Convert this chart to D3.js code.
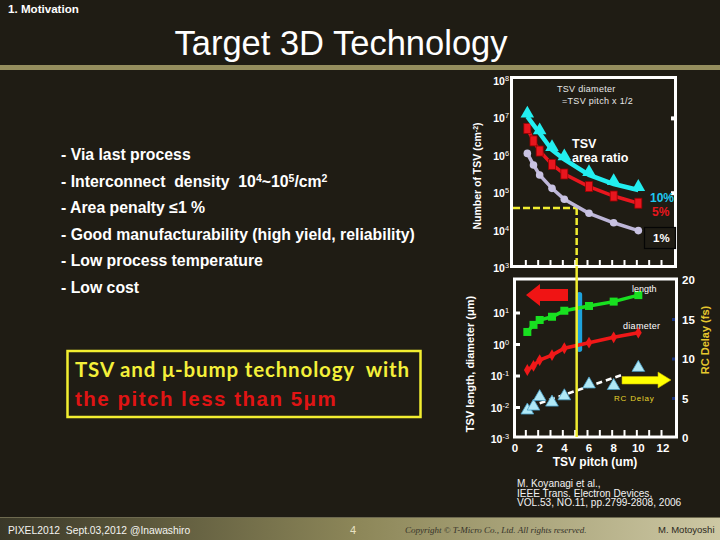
<!DOCTYPE html>
<html><head><meta charset="utf-8">
<script src="https://cdn.jsdelivr.net/npm/d3@7"></script>
<style>
html,body{margin:0;padding:0;background:#1f1c14;}
svg{display:block;}
text{font-family:"Liberation Sans",Arial,sans-serif;}
</style></head>
<body>
<script>
// ---------- data ----------
const pitch = [1, 1.5, 2, 3, 4, 6, 8, 10];           // TSV pitch (um)
const pitch10 = [1, 2, 3, 4, 6, 8, 10];
const tsv10 = [1.12e7, 4.0e6, 1.43e6, 8.05e5, 3.07e5, 1.76e5, 1.22e5]; // 10% area ratio
const tsv5  = [5.4e6, 2.5e6, 1.34e6, 5.9e5, 3.26e5, 1.5e5, 8.4e4, 5.4e4]; // 5%
const tsv1  = [1.16e6, 5.7e5, 3.07e5, 1.35e5, 6.9e4, 2.9e4, 1.62e4, 1.0e4]; // 1%
const tsvLength   = [2.5, 4.2, 6.0, 7.6, 11.8, 16.7, 23, 37];     // um
const tsvDiameter = [0.155, 0.21, 0.32, 0.46, 0.76, 1.14, 1.69, 2.37]; // um
const rcDelay     = [3.5, 4.0, 5.2, 4.5, 5.3, 6.8, 6.6, 8.9];      // fs
const rcFitPitch = [2, 4.7, 8.7];
const rcFit      = [4.4, 5.85, 8.0];
const targetPitch = 5, targetDensity = 4e4;
const xTicks = [0, 2, 4, 6, 8, 10, 12];
const topExp = [8, 7, 6, 5, 4, 3];
const botExp = [1, 0, -1, -2, -3];
const rightTicks = [20, 15, 10, 5, 0];
const bullets = [
  ["- Via last process"],
  ["- Interconnect  density  10", ["4"], "~10", ["5"], "/cm", ["2"]],
  ["- Area penalty ≤1 %"],
  ["- Good manufacturability (high yield, reliability)"],
  ["- Low process temperature"],
  ["- Low cost"]
];

const W = 720, H = 540;
const svg = d3.select("body").append("svg").attr("width", W).attr("height", H);
const defs = svg.append("defs");
const g1 = defs.append("linearGradient").attr("id","foot").attr("x1","0").attr("x2","1");
g1.append("stop").attr("offset","0").attr("stop-color","#3a3828");
g1.append("stop").attr("offset","0.5").attr("stop-color","#8d8759");
g1.append("stop").attr("offset","1").attr("stop-color","#cdc8a4");

svg.append("rect").attr("width",W).attr("height",H).attr("fill","#1f1c14");
// header
svg.append("rect").attr("x",0).attr("y",65).attr("width",W).attr("height",5).attr("fill","#958e5e");
svg.append("text").attr("x",8).attr("y",13).attr("fill","#fff").attr("font-size",11.6).attr("font-weight","bold").text("1. Motivation");
svg.append("text").attr("x",341).attr("y",55).attr("fill","#fff").attr("font-size",34.5).attr("text-anchor","middle").text("Target 3D Technology");
// footer
svg.append("rect").attr("x",0).attr("y",517).attr("width",W).attr("height",23).attr("fill","url(#foot)");
svg.append("rect").attr("x",0).attr("y",517).attr("width",W).attr("height",1).attr("fill","#6e6a50");
svg.append("text").attr("x",8).attr("y",534).attr("fill","#f4f4f0").attr("font-size",10.3).attr("xml:space","preserve").text("PIXEL2012  Sept.03,2012 @Inawashiro");
svg.append("text").attr("x",350).attr("y",534).attr("fill","#e8e2c4").attr("font-size",11).text("4");
svg.append("text").attr("x",405).attr("y",533).attr("fill","#36332a").attr("font-size",9).attr("font-style","italic").style("font-family","'Liberation Serif',serif").text("Copyright © T-Micro Co., Ltd. All rights reserved.");
svg.append("text").attr("x",658).attr("y",533).attr("fill","#2a2820").attr("font-size",9.5).text("M. Motoyoshi");

// bullets
bullets.forEach((parts, i) => {
  const t = svg.append("text").attr("x",61).attr("y",160 + i*26.6).attr("fill","#fff").attr("font-size",15.8).attr("font-weight","bold").attr("xml:space","preserve");
  let up = false;
  parts.forEach(p => {
    if (Array.isArray(p)) { t.append("tspan").attr("dy", -5).attr("font-size",10.5).text(p[0]); up = true; }
    else { const s = t.append("tspan").text(p); if (up) { s.attr("dy",5); up=false; } }
  });
});
// yellow box
svg.append("rect").attr("x",67.5).attr("y",351).attr("width",353).attr("height",66).attr("fill","none").attr("stroke","#f2ee30").attr("stroke-width",2.5);
svg.append("text").attr("x",75).attr("y",377).attr("fill","#f4f03a").attr("font-size",20.5).attr("font-weight","bold").attr("letter-spacing",0.85).style("font-family","Lato,'Open Sans',sans-serif").attr("xml:space","preserve").text("TSV and μ-bump technology  with");
svg.append("text").attr("x",75).attr("y",406).attr("fill","#e01414").attr("font-size",20.5).attr("font-weight","bold").attr("letter-spacing",1.5).text("the pitch less than 5μm");

// reference
["M. Koyanagi et al.,","IEEE Trans. Electron Devices,","VOL.53, NO.11, pp.2799-2808, 2006"].forEach((s,i)=>{
  svg.append("text").attr("x",517).attr("y",487+i*9.7).attr("fill","#f2f2f2").attr("font-size",10.1).text(s);
});

// ---------- scales ----------
const x = d3.scaleLinear().domain([0,12]).range([515,663]);
const yT = d3.scaleLog().domain([1e3,1e8]).range([268,81]);
const yB = d3.scaleLog().domain([1e-3,1e2]).range([439,281.5]);
const yR = d3.scaleLinear().domain([0,20]).range([438,280]);

function logLabel(sel, xx, yy, e, size) {
  const t = sel.append("text").attr("x",xx).attr("y",yy).attr("fill","#fff").attr("font-size",size).attr("font-weight","bold").attr("text-anchor","end");
  t.append("tspan").text("10");
  t.append("tspan").attr("dy",-4).attr("font-size",size*0.7).attr("font-weight","normal").text(e < 0 ? "-" + (-e) : e);
}

// ---------- top chart ----------
const topG = svg.append("g");
topG.append("rect").attr("x",511.5).attr("y",77.5).attr("width",164).attr("height",189).attr("fill","none").attr("stroke","#fff").attr("stroke-width",3);
d3.range(1,13).forEach(v=>{
  topG.append("line").attr("x1",x(v)-1.5).attr("x2",x(v)-1.5).attr("y1",266).attr("y2",260).attr("stroke","#fff").attr("stroke-width",2);
});
[1e7,1e5].forEach(v=>{
  topG.append("line").attr("x1",671).attr("x2",676).attr("y1",yT(v)).attr("y2",yT(v)).attr("stroke","#fff").attr("stroke-width",4);
});
topExp.forEach(e=> logLabel(topG, 509, yT(Math.pow(10,e)) + 4, e, 10.5));
topG.append("text").attr("transform","translate(481,176) rotate(-90)").attr("text-anchor","middle").attr("fill","#fff").attr("font-size",10.5).attr("font-weight","bold")
  .call(t=>{ t.append("tspan").text("Number of TSV (cm"); t.append("tspan").attr("dy",-3).attr("font-size",7).text("-2"); t.append("tspan").attr("dy",3).text(")"); });
topG.append("text").attr("x",557).attr("y",92).attr("fill","#e8e8e8").attr("font-size",9).attr("letter-spacing",0.3).text("TSV diameter");
topG.append("text").attr("x",562).attr("y",104).attr("fill","#e8e8e8").attr("font-size",9).attr("letter-spacing",0.3).text("=TSV pitch x  1/2");
topG.append("text").attr("x",572).attr("y",148).attr("fill","#fff").attr("font-size",12.5).attr("font-weight","bold").text("TSV");
topG.append("text").attr("x",572).attr("y",162).attr("fill","#fff").attr("font-size",12.5).attr("font-weight","bold").text("area ratio");

// yellow target lines
topG.append("line").attr("x1",513).attr("x2",x(targetPitch)).attr("y1",yT(targetDensity)).attr("y2",yT(targetDensity)).attr("stroke","#f0ec30").attr("stroke-width",2.5).attr("stroke-dasharray","7,3");
topG.append("line").attr("x1",x(targetPitch)).attr("x2",x(targetPitch)).attr("y1",yT(targetDensity)).attr("y2",266).attr("stroke","#f0ec30").attr("stroke-width",2.5).attr("stroke-dasharray","7,3");

const lineT = d3.line().x(d=>x(d[0])).y(d=>yT(d[1]));
const d1 = pitch.map((p,i)=>[p,tsv1[i]]);
const d5 = pitch.map((p,i)=>[p,tsv5[i]]);
const d10 = pitch10.map((p,i)=>[p,tsv10[i]]);
topG.append("path").attr("d",lineT(d1)).attr("fill","none").attr("stroke","#bdb6d8").attr("stroke-width",3.5);
topG.selectAll(".c1").data(d1).join("circle").attr("cx",d=>x(d[0])).attr("cy",d=>yT(d[1])).attr("r",3.8).attr("fill","#c8c2e2");
topG.append("path").attr("d",lineT(d5)).attr("fill","none").attr("stroke","#e8161e").attr("stroke-width",3.5);
topG.selectAll(".s5").data(d5).join("rect").attr("x",d=>x(d[0])-3.5).attr("y",d=>yT(d[1])-5).attr("width",7).attr("height",10).attr("fill","#e8161e").attr("stroke","#900").attr("stroke-width",0.8);
topG.append("path").attr("d",lineT(d10)).attr("fill","none").attr("stroke","#22eef0").attr("stroke-width",4.5);
topG.selectAll(".t10").data(d10).join("path").attr("transform",d=>`translate(${x(d[0])},${yT(d[1])-3})`).attr("d",d3.symbol(d3.symbolTriangle,80)()).attr("fill","#22eef0");
topG.append("text").attr("x",650).attr("y",202).attr("fill","#1ec8f0").attr("font-size",12).attr("font-weight","bold").text("10%");
topG.append("text").attr("x",652).attr("y",216).attr("fill","#e8161e").attr("font-size",12).attr("font-weight","bold").text("5%");
topG.append("rect").attr("x",644.5).attr("y",227.5).attr("width",31).attr("height",21).attr("fill","#1f1c14").attr("stroke","#050505").attr("stroke-width",1.2);
topG.append("text").attr("x",653).attr("y",242).attr("fill","#fff").attr("font-size",11.5).attr("font-weight","bold").text("1%");

// ---------- bottom chart ----------
const bot = svg.append("g");
bot.append("rect").attr("x",514.5).attr("y",279).attr("width",162).attr("height",158).attr("fill","none").attr("stroke","#fff").attr("stroke-width",3);
d3.range(1,13).forEach(v=>{
  bot.append("line").attr("x1",x(v)-1.5).attr("x2",x(v)-1.5).attr("y1",436).attr("y2",430).attr("stroke","#fff").attr("stroke-width",2);
});
botExp.filter(e=>e>-3).forEach(e=>{
  bot.append("line").attr("x1",515).attr("x2",520).attr("y1",yB(Math.pow(10,e))).attr("y2",yB(Math.pow(10,e))).attr("stroke","#fff").attr("stroke-width",3);
});
botExp.forEach(e=> logLabel(bot, 509, yB(Math.pow(10,e)) + 4, e, 10.5));
xTicks.forEach(v=>{
  bot.append("text").attr("x",x(v)).attr("y",452).attr("text-anchor","middle").attr("fill","#fff").attr("font-size",11.5).attr("font-weight","bold").text(v);
});
bot.append("text").attr("x",595).attr("y",466).attr("text-anchor","middle").attr("fill","#fff").attr("font-size",12).attr("font-weight","bold").text("TSV pitch (um)");
rightTicks.forEach(v=>{
  bot.append("text").attr("x",682).attr("y",yR(v)+4).attr("fill","#fff").attr("font-size",11.5).attr("font-weight","bold").text(v);
  if (v>0 && v<20) bot.append("rect").attr("x",672).attr("y",yR(v)-1.5).attr("width",3).attr("height",3).attr("fill","#1a3480");
});
bot.append("text").attr("transform","translate(474,364) rotate(-90)").attr("text-anchor","middle").attr("fill","#fff").attr("font-size",11).attr("font-weight","bold").text("TSV length, diameter (μm)");
bot.append("text").attr("transform","translate(709,340) rotate(-90)").attr("text-anchor","middle").attr("fill","#e6c82e").attr("font-size",11).attr("font-weight","bold").text("RC Delay (fs)");

// blue bar and yellow solid line
bot.append("rect").attr("x",x(targetPitch)).attr("y",292).attr("width",5.5).attr("height",60).attr("rx",2.7).attr("fill","#1ea2dc");
svg.append("line").attr("x1",x(targetPitch)).attr("x2",x(targetPitch)).attr("y1",266).attr("y2",437).attr("stroke","#f0ec30").attr("stroke-width",2.5);

// arrows
bot.append("path").attr("d","M526,295 L540,284 L540,289 L568,289 L568,301 L540,301 L540,306 Z").attr("fill","#f01414");
bot.append("path").attr("d","M671,380 L658,372 L658,376.5 L622,376.5 L622,384 L658,384 L658,388 Z").attr("fill","#ffff00").attr("stroke","#c8b400").attr("stroke-width",0.6);

const lineB = d3.line().x(d=>x(d[0])).y(d=>yB(d[1]));
const dl = pitch.map((p,i)=>[p,tsvLength[i]]);
const dd = pitch.map((p,i)=>[p,tsvDiameter[i]]);
bot.append("path").attr("d",lineB(dl)).attr("fill","none").attr("stroke","#18e020").attr("stroke-width",3.5);
bot.selectAll(".gl").data(dl).join("rect").attr("x",d=>x(d[0])-4).attr("y",d=>yB(d[1])-4).attr("width",8).attr("height",8).attr("fill","#18e020");
bot.append("path").attr("d",lineB(dd)).attr("fill","none").attr("stroke","#f01818").attr("stroke-width",3.5);
bot.selectAll(".dd").data(dd).join("path").attr("transform",d=>`translate(${x(d[0])},${yB(d[1])})`).attr("d",d3.symbol(d3.symbolDiamond,40)()).attr("fill","#f01818");
const fit = rcFitPitch.map((p,i)=>[p,rcFit[i]]);
bot.append("path").attr("d",d3.line().x(d=>x(d[0])).y(d=>yR(d[1]))(fit)).attr("fill","none").attr("stroke","#fff").attr("stroke-width",2.5).attr("stroke-dasharray","6,4");
const dr = pitch.map((p,i)=>[p,rcDelay[i]]);
bot.selectAll(".rc").data(dr).join("path").attr("transform",d=>`translate(${x(d[0])},${yR(d[1])})`).attr("d",d3.symbol(d3.symbolTriangle,70)()).attr("fill","#b0e8f6").attr("stroke","#4aa0c8").attr("stroke-width",0.8);
bot.append("text").attr("x",632).attr("y",292).attr("fill","#fff").attr("font-size",9).text("length");
bot.append("text").attr("x",623).attr("y",329).attr("fill","#fff").attr("font-size",9).attr("letter-spacing",0.3).text("diameter");
bot.append("text").attr("x",614).attr("y",401).attr("fill","#e6d42c").attr("font-size",8).attr("letter-spacing",0.8).text("RC Delay");
</script>
</body></html>
